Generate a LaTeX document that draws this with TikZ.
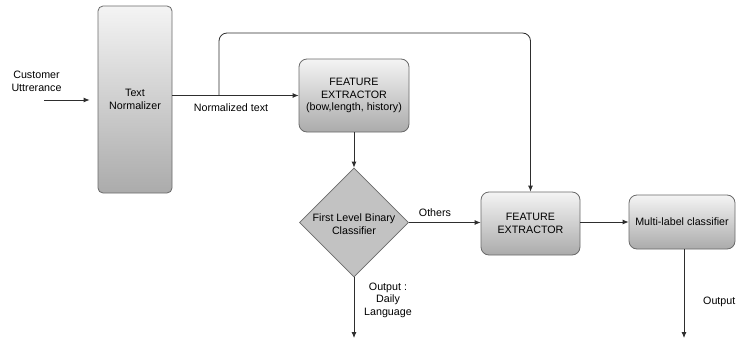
\documentclass[tikz,border=0pt]{standalone}
\usepackage{fontspec}
\setmainfont{Liberation Sans}
\usetikzlibrary{shapes.geometric,arrows.meta}
\definecolor{edgegray}{HTML}{6A6A6A}
\definecolor{linegray}{HTML}{2E2E2E}
\definecolor{toplight}{HTML}{F4F4F4}
\definecolor{botdark}{HTML}{ABABAB}
\definecolor{diafill}{HTML}{C2C2C2}
\tikzset{
  txt/.style={font=\fontsize{10.7}{12.5}\selectfont, align=center, text=black},
  gbox/.style={draw=edgegray, line width=0.8pt, rounded corners=8pt, top color=toplight, bottom color=botdark, inner sep=0pt, txt},
  arr/.style={draw=linegray, line width=0.8pt, -{Latex[length=6pt,width=5pt]}},
  ln/.style={draw=linegray, line width=0.8pt}
}
\begin{document}
\begin{tikzpicture}[x=1pt,y=-1pt]
\useasboundingbox[fill=white] (0,0) rectangle (736,343);
% nodes
\node[gbox, rounded corners=5pt, minimum width=74pt, minimum height=187pt] (tn) at (135,99.5) {Text\\Normalizer};
\node[gbox, minimum width=110pt, minimum height=73pt] (fe1) at (354,95.5) {FEATURE\\EXTRACTOR\\(bow,length, history)};
\node[diamond, draw=edgegray, line width=0.8pt, fill=diafill, minimum width=109pt, minimum height=109pt, inner sep=0pt] (d) at (354,222.5) {};
\node[txt] (dl) at (354,224) {First Level Binary\\Classifier};
\node[gbox, minimum width=99pt, minimum height=63pt] (fe2) at (530.5,223.5) {FEATURE\\EXTRACTOR};
\node[gbox, minimum width=106pt, minimum height=54pt] (ml) at (682,222) {Multi-label classifier};
% labels
\node[txt] (cu) at (36.5,81.5) {Customer\\Uttrerance};
\node[txt] (nt) at (231,108) {Normalized text};
\node[txt] (ot) at (435,213) {Others};
\node[txt] (odl) at (388,300) {Output :\\Daily\\Language};
\node[txt, anchor=east, inner xsep=0.5pt] (o2) at (736,302) {Output};
% coordinates
\coordinate (cus) at (44,100);
\coordinate (br) at (219,95.5);
\coordinate (top) at (219,33);
\coordinate (dend) at (354,338);
\coordinate (mend) at (684,338);
% connectors
\draw[arr, shorten >=8pt] (cus) -- (cus -| tn.west);
\draw[ln] (tn.east |- fe1.west) -- (br);
\draw[arr] (br) -- (fe1.west);
\draw[arr, rounded corners=8pt] (br) -- (top) -- (top -| fe2.north) -- (fe2.north);
\draw[arr] (fe1.south) -- (d.north);
\draw[arr] (d.east) -- (d.east -| fe2.west);
\draw[arr] (d.south) -- (dend);
\draw[arr] (fe2.east |- ml.west) -- (ml.west);
\draw[arr] (ml.south -| mend) -- (mend);
\end{tikzpicture}
\end{document}
